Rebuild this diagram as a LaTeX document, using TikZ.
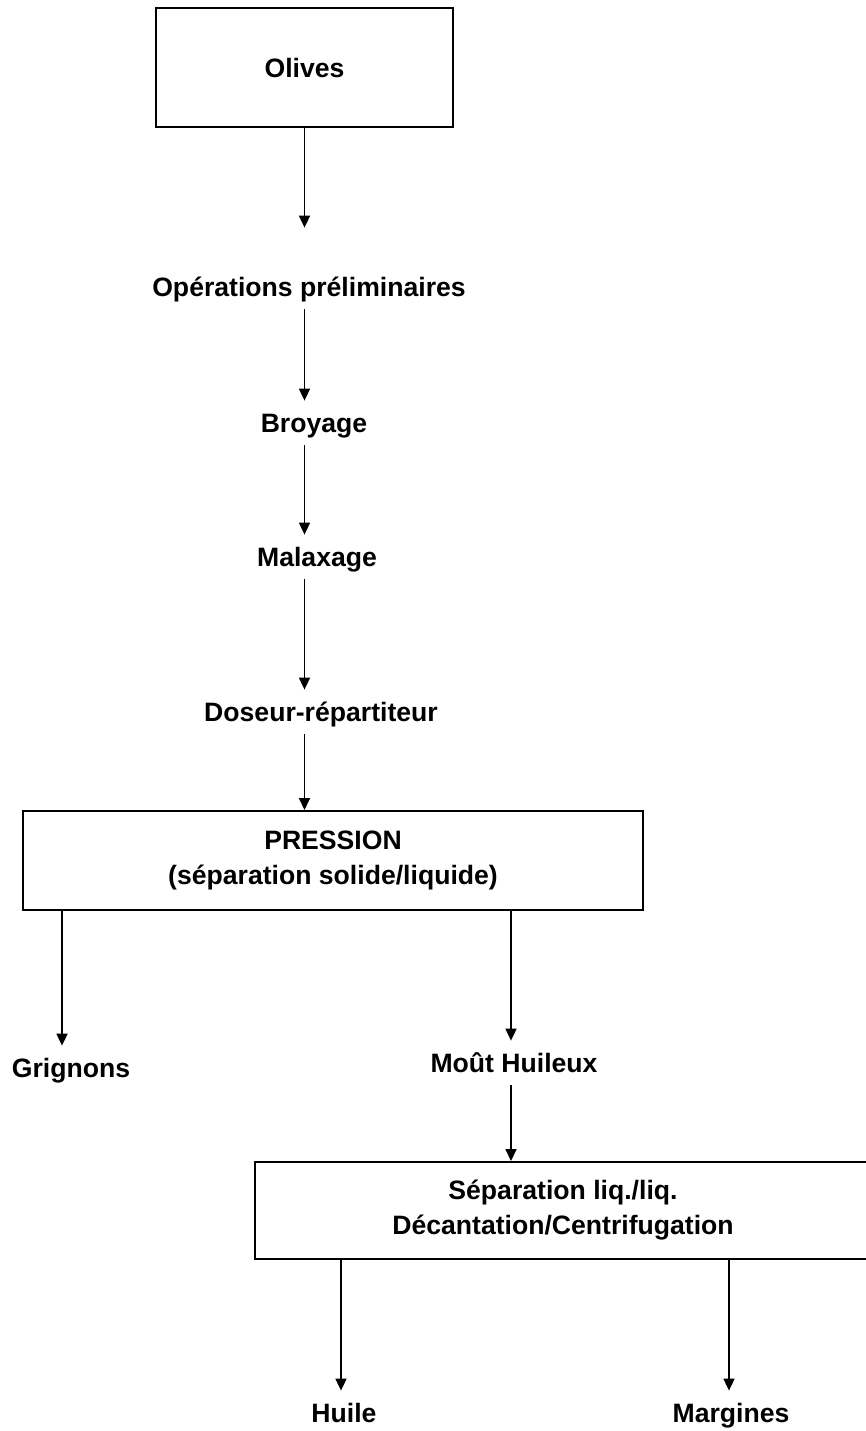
\documentclass[tikz,border=0pt]{standalone}
\usepackage{fontspec}
\setmainfont{Liberation Sans}
\usetikzlibrary{arrows.meta}
\begin{document}
\begin{tikzpicture}[x=0.5pt,y=-0.5pt,
  font=\fontsize{13.3}{17.5}\selectfont\bfseries,
  box/.style={draw,line width=1pt,rectangle,inner sep=0pt,align=center},
  lbl/.style={anchor=base,inner xsep=0pt,inner ysep=6.5pt,text height=9pt,text depth=0pt},
  arr/.style={line width=0.85pt,-{Triangle[length=6pt,width=5.5pt]}}]
\useasboundingbox (0,0) rectangle (866,1431);
% boxes
\node[box,minimum width=148.5pt,minimum height=59.5pt] (olives) at (304.5,67.5) {Olives};
\node[box,minimum width=310pt,minimum height=49.5pt] (press) at (333,860.5) {PRESSION\\(séparation solide/liquide)};
\node[box,minimum width=308pt,minimum height=48.5pt] (sep) at (563,1210.5) {Séparation liq./liq.\\Décantation/Centrifugation};
% labels
\node[lbl] (op) at (309,296) {Opérations préliminaires};
\node[lbl] (broy) at (314,432) {Broyage};
\node[lbl] (malax) at (317,566) {Malaxage};
\node[lbl] (dos) at (321,721) {Doseur-répartiteur};
\node[lbl] (grig) at (71,1077) {Grignons};
\node[lbl] (mout) at (514,1072) {Moût Huileux};
\node[lbl] (huile) at (344,1422) {Huile};
\node[lbl] (marg) at (731,1422) {Margines};
% connectors
\draw[arr,shorten >=18.5pt] (olives.south) -- (olives.south |- op.north);
\draw[arr] (op.south -| olives.south) -- (broy.north -| olives.south);
\draw[arr] (broy.south -| olives.south) -- (malax.north -| olives.south);
\draw[arr] (malax.south -| olives.south) -- (dos.north -| olives.south);
\draw[arr] (dos.south -| olives.south) -- (press.north -| olives.south);
\draw[arr] ([xshift=-4.5pt]grig.north |- press.south) -- ([xshift=-4.5pt]grig.north);
\draw[arr] ([xshift=-1.5pt]mout.north |- press.south) -- ([xshift=-1.5pt]mout.north);
\draw[arr] ([xshift=-1.5pt]mout.south) -- ([xshift=-1.5pt]mout.south |- sep.north);
\draw[arr] ([xshift=-1.5pt]huile.north |- sep.south) -- ([xshift=-1.5pt]huile.north);
\draw[arr] ([xshift=-1pt]marg.north |- sep.south) -- ([xshift=-1pt]marg.north);
\end{tikzpicture}
\end{document}
